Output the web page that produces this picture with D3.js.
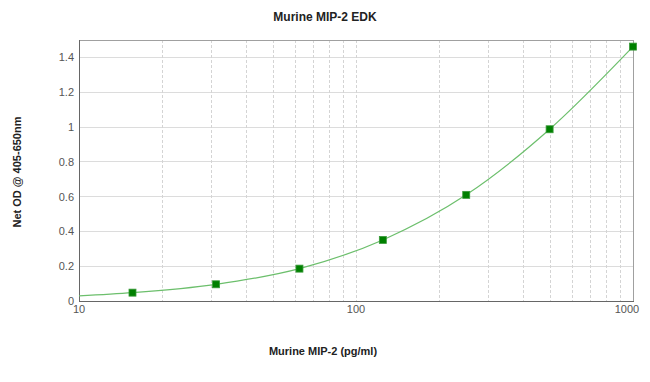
<!DOCTYPE html>
<html><head><meta charset="utf-8">
<script src="https://cdn.jsdelivr.net/npm/d3@7"></script>
<style>body{margin:0;background:#fff}svg{display:block;font-family:Arial,"Liberation Sans",sans-serif}</style>
</head><body><svg id="c" width="650" height="382"></svg>
<script>
const concentrations = [15.6, 31.25, 62.5, 125, 250, 500, 1000];
const odValues = [0.048, 0.096, 0.186, 0.351, 0.61, 0.987, 1.462];
const fitX = [10, 15.6, 31.25, 62.5, 125, 250, 500, 1000];
const fitY = [0.029, 0.048, 0.096, 0.186, 0.351, 0.61, 0.987, 1.462];
const yTicks = [0, 0.2, 0.4, 0.6, 0.8, 1, 1.2, 1.4];
const xTickLabels = [10, 100, 1000];
const xGridValues = [20,30,40,50,60,70,80,90,100,200,300,400,500,600,700,800,900];

const svg = d3.select("#c");
const L = 79, R = 633, T = 40, B = 301;
const x = d3.scaleLog().domain([10, 1000]).range([L, R]);
const y = d3.scaleLinear().domain([0, 1.5]).range([B, T]);

// horizontal grid
svg.append("g").selectAll("line").data(yTicks.filter(d => d > 0)).join("line")
  .attr("x1", L).attr("x2", R).attr("y1", d => y(d)).attr("y2", d => y(d))
  .attr("stroke", "#dcdcdc").attr("stroke-width", 1).attr("shape-rendering", "crispEdges");
// vertical grid
svg.append("g").selectAll("line").data(xGridValues).join("line")
  .attr("x1", d => Math.round(x(d)) + 0.5).attr("x2", d => Math.round(x(d)) + 0.5).attr("y1", T).attr("y2", B)
  .attr("stroke", "#d4d4d4").attr("stroke-width", 1).attr("stroke-dasharray", "3,2");

// frame
svg.append("line").attr("x1", L).attr("x2", R + 0.5).attr("y1", T + 0.5).attr("y2", T + 0.5).attr("stroke", "#a0a0a0");
svg.append("line").attr("x1", R + 0.5).attr("x2", R + 0.5).attr("y1", T).attr("y2", B).attr("stroke", "#a0a0a0");
svg.append("line").attr("x1", L + 0.5).attr("x2", L + 0.5).attr("y1", T).attr("y2", B + 1).attr("stroke", "#666");
svg.append("line").attr("x1", L).attr("x2", R + 1).attr("y1", B + 0.5).attr("y2", B + 0.5).attr("stroke", "#666");

// y tick labels
svg.append("g").selectAll("text").data(yTicks).join("text")
  .attr("x", 74).attr("y", d => y(d) + 4).attr("text-anchor", "end")
  .attr("font-size", 11).attr("fill", "#555").text(d => d3.format("")(d));
// x tick labels
svg.append("g").selectAll("text").data(xTickLabels).join("text")
  .attr("x", (d, i) => x(d) + (i === xTickLabels.length - 1 ? -6 : 0)).attr("y", 313)
  .attr("text-anchor", "middle").attr("font-size", 11).attr("fill", "#555").text(d => d);

// fit curve
const line = d3.line().x((d, i) => x(fitX[i])).y(d => y(d)).curve(d3.curveMonotoneX);
svg.append("path").datum(fitY).attr("d", line).attr("fill", "none")
  .attr("stroke", "#6cbf6c").attr("stroke-width", 1.2);

// markers
svg.append("g").selectAll("rect").data(odValues).join("rect")
  .attr("x", (d, i) => x(concentrations[i]) - 3.5).attr("y", d => y(d) - 3.5)
  .attr("width", 7).attr("height", 7).attr("fill", "#008000").attr("stroke", "#3a9a3a").attr("stroke-width", 0.8);

// titles
svg.append("text").attr("x", 325).attr("y", 21).attr("text-anchor", "middle")
  .attr("font-size", 12).attr("font-weight", "bold").attr("fill", "#222").text("Murine MIP-2 EDK");
svg.append("text").attr("x", 323).attr("y", 355).attr("text-anchor", "middle")
  .attr("font-size", 11).attr("font-weight", "bold").attr("fill", "#222").text("Murine MIP-2 (pg/ml)");
svg.append("text").attr("transform", "translate(21,172) rotate(-90)").attr("text-anchor", "middle")
  .attr("font-size", 11).attr("font-weight", "bold").attr("fill", "#222").text("Net OD @ 405-650nm");
</script></body></html>
